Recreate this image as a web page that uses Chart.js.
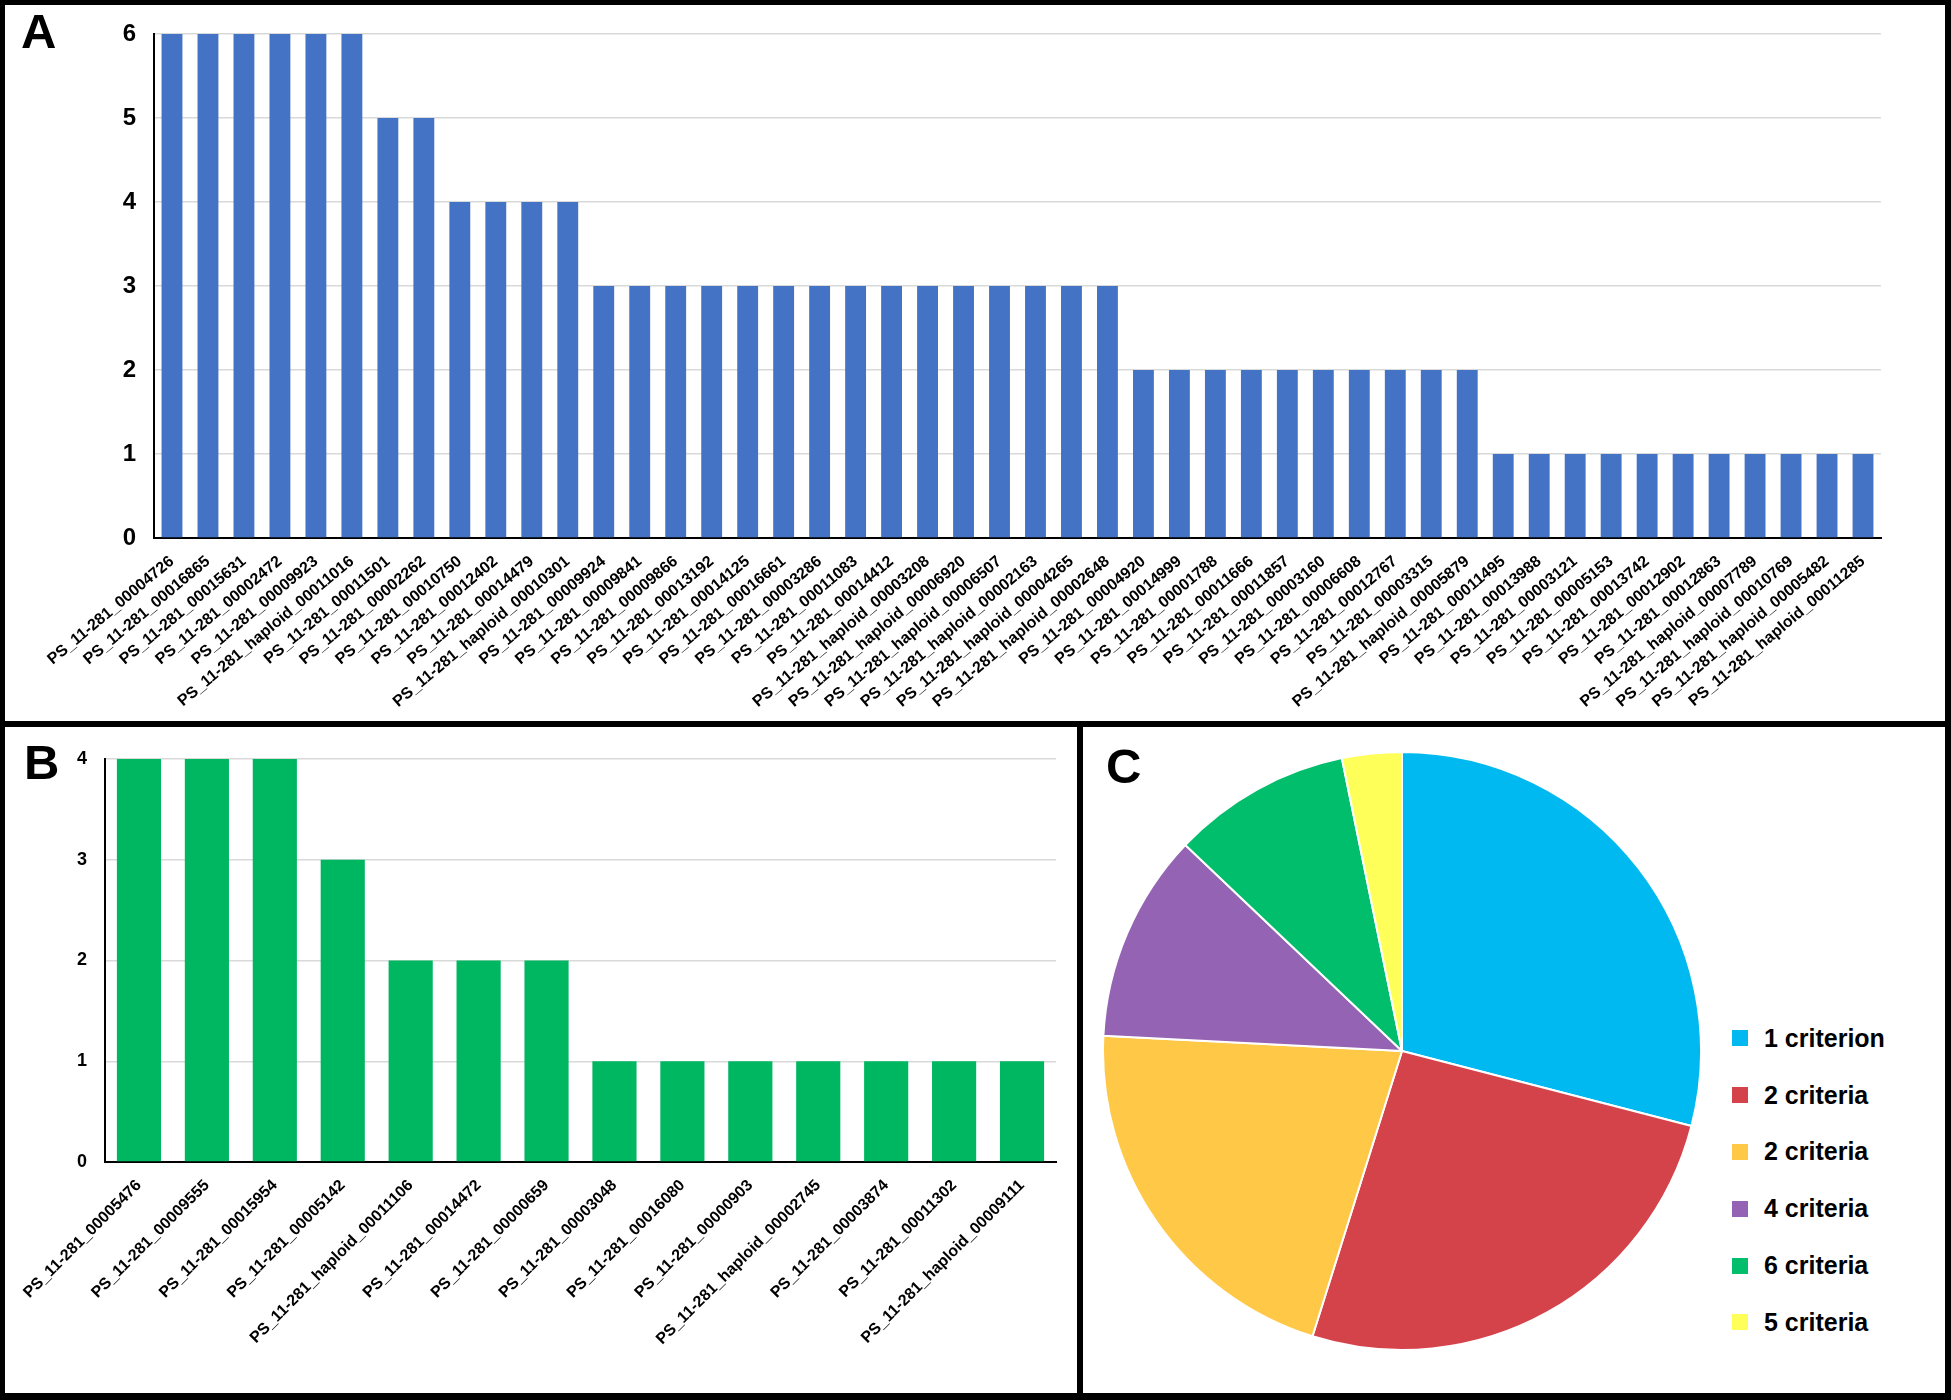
<!DOCTYPE html>
<html>
<head>
<meta charset="utf-8">
<title>Criteria per gene</title>
<script src="https://cdn.jsdelivr.net/npm/chart.js@4.4.0/dist/chart.umd.min.js"></script>
<style>
  html, body { margin: 0; padding: 0; background: #fff; }
  #page { position: relative; width: 1951px; height: 1400px; overflow: hidden;
          font-family: "Liberation Sans", Arial, sans-serif; color: #000; }
  .bar { position: absolute; background: #000; }
  .letter { position: absolute; font-weight: bold; font-size: 49px; line-height: 1; }
  .box { position: absolute; }
  #legendC { position: absolute; left: 1732px; top: 1010px; }
  #legendC .row { height: 56.8px; display: flex; align-items: center; }
  #legendC .sw { width: 16px; height: 16px; margin-right: 16px; }
  #legendC .txt { font-weight: bold; font-size: 25px; }
</style>
</head>
<body>
<div id="page">
  <div class="box" style="left:5px;top:10px;width:1895px;height:712px;"><canvas id="chartA" width="1895" height="712"></canvas></div>
  <div class="box" style="left:5px;top:735px;width:1065px;height:655px;"><canvas id="chartB" width="1065" height="655"></canvas></div>
  <div class="box" style="left:1102px;top:751px;width:600px;height:600px;"><canvas id="chartC" width="600" height="600"></canvas></div>
  <div id="legendC"></div>

  <div class="letter" style="left:21px;top:7px;">A</div>
  <div class="letter" style="left:24px;top:738px;">B</div>
  <div class="letter" style="left:1106px;top:742px;">C</div>

  <!-- frame lines -->
  <div class="bar" style="left:0;top:0;width:1951px;height:5px;"></div>
  <div class="bar" style="left:0;top:1393px;width:1951px;height:7px;"></div>
  <div class="bar" style="left:0;top:0;width:5px;height:1400px;"></div>
  <div class="bar" style="left:1945px;top:0;width:6px;height:1400px;"></div>
  <div class="bar" style="left:0;top:721px;width:1951px;height:6px;"></div>
  <div class="bar" style="left:1077px;top:727px;width:6px;height:666px;"></div>
</div>

<script>
// panel A
var labelsA = [
  'PS_11-281_00004726', 'PS_11-281_00016865', 'PS_11-281_00015631', 'PS_11-281_00002472',
  'PS_11-281_00009923', 'PS_11-281_haploid_00011016', 'PS_11-281_00011501', 'PS_11-281_00002262',
  'PS_11-281_00010750', 'PS_11-281_00012402', 'PS_11-281_00014479', 'PS_11-281_haploid_00010301',
  'PS_11-281_00009924', 'PS_11-281_00009841', 'PS_11-281_00009866', 'PS_11-281_00013192',
  'PS_11-281_00014125', 'PS_11-281_00016661', 'PS_11-281_00003286', 'PS_11-281_00011083',
  'PS_11-281_00014412', 'PS_11-281_haploid_00003208', 'PS_11-281_haploid_00006920',
  'PS_11-281_haploid_00006507', 'PS_11-281_haploid_00002163', 'PS_11-281_haploid_00004265',
  'PS_11-281_haploid_00002648', 'PS_11-281_00004920', 'PS_11-281_00014999', 'PS_11-281_00001788',
  'PS_11-281_00011666', 'PS_11-281_00011857', 'PS_11-281_00003160', 'PS_11-281_00006608',
  'PS_11-281_00012767', 'PS_11-281_00003315', 'PS_11-281_haploid_00005879', 'PS_11-281_00011495',
  'PS_11-281_00013988', 'PS_11-281_00003121', 'PS_11-281_00005153', 'PS_11-281_00013742',
  'PS_11-281_00012902', 'PS_11-281_00012863', 'PS_11-281_haploid_00007789',
  'PS_11-281_haploid_00010769', 'PS_11-281_haploid_00005482', 'PS_11-281_haploid_00011285'
];
var valuesA = [
  6, 6, 6, 6, 6, 6, 5, 5, 4, 4, 4, 4,
  3, 3, 3, 3, 3, 3, 3, 3, 3, 3, 3, 3, 3, 3, 3,
  2, 2, 2, 2, 2, 2, 2, 2, 2, 2,
  1, 1, 1, 1, 1, 1, 1, 1, 1, 1, 1
];

// panel B
var labelsB = [
  'PS_11-281_00005476', 'PS_11-281_00009555', 'PS_11-281_00015954', 'PS_11-281_00005142',
  'PS_11-281_haploid_00011106', 'PS_11-281_00014472', 'PS_11-281_00000659', 'PS_11-281_00003048',
  'PS_11-281_00016080', 'PS_11-281_00000903', 'PS_11-281_haploid_00002745', 'PS_11-281_00003874',
  'PS_11-281_00011302', 'PS_11-281_haploid_00009111'
];
var valuesB = [4, 4, 4, 3, 2, 2, 2, 1, 1, 1, 1, 1, 1, 1];

// panel C
var pieLabels = ['1 criterion', '2 criteria', '2 criteria', '4 criteria', '6 criteria', '5 criteria'];
var pieValues = [18, 16, 13, 7, 6, 2];
var pieColors = ['#00B9F1', '#D5434A', '#FFC846', '#9563B4', '#00BE6C', '#FFFF5A'];

var fontFam = '"Liberation Sans", Arial, sans-serif';

function barOptions(yMax, yWidth, xHeight, pad, tickSize, barPct, rot) {
  return {
    responsive: false,
    animation: false,
    layout: { padding: pad },
    plugins: { legend: { display: false }, tooltip: { enabled: false } },
    datasets: { bar: { categoryPercentage: 1, barPercentage: barPct } },
    scales: {
      x: {
        grid: { display: false },
        border: { display: true, color: '#000', width: 2 },
        ticks: {
          autoSkip: false, minRotation: rot, maxRotation: rot, padding: 6,
          color: '#000', font: { family: fontFam, size: 16, weight: 'bold' }
        },
        afterFit: function (s) { s.height = xHeight; }
      },
      y: {
        min: 0, max: yMax,
        grid: { color: '#d9d9d9', lineWidth: 1.5, drawTicks: false },
        border: { display: true, color: '#000', width: 2 },
        ticks: {
          stepSize: 1, padding: 18,
          color: '#000', font: { family: fontFam, size: tickSize, weight: 'bold' }
        },
        afterFit: function (s) { s.width = yWidth; s.paddingTop = 0; s.paddingBottom = 0; }
      }
    }
  };
}

new Chart(document.getElementById('chartA').getContext('2d'), {
  type: 'bar',
  data: { labels: labelsA, datasets: [{ data: valuesA, backgroundColor: '#4472C4' }] },
  options: barOptions(6, 149, 184, { top: 24, right: 19, left: 0, bottom: 0 }, 24, 0.58, 40)
});

new Chart(document.getElementById('chartB').getContext('2d'), {
  type: 'bar',
  data: { labels: labelsB, datasets: [{ data: valuesB, backgroundColor: '#00B761' }] },
  options: barOptions(4, 100, 228, { top: 24, right: 14, left: 0, bottom: 0 }, 18, 0.65, 45)
});

new Chart(document.getElementById('chartC').getContext('2d'), {
  type: 'pie',
  data: {
    labels: pieLabels,
    datasets: [{ data: pieValues, backgroundColor: pieColors, borderColor: '#fff', borderWidth: 2 }]
  },
  options: {
    responsive: false,
    animation: false,
    layout: { padding: 0 },
    plugins: { legend: { display: false }, tooltip: { enabled: false } }
  }
});

var legend = document.getElementById('legendC');
for (var i = 0; i < pieLabels.length; i++) {
  var row = document.createElement('div');
  row.className = 'row';
  row.innerHTML = '<div class="sw" style="background:' + pieColors[i] + '"></div><div class="txt">' + pieLabels[i] + '</div>';
  legend.appendChild(row);
}
</script>
</body>
</html>
